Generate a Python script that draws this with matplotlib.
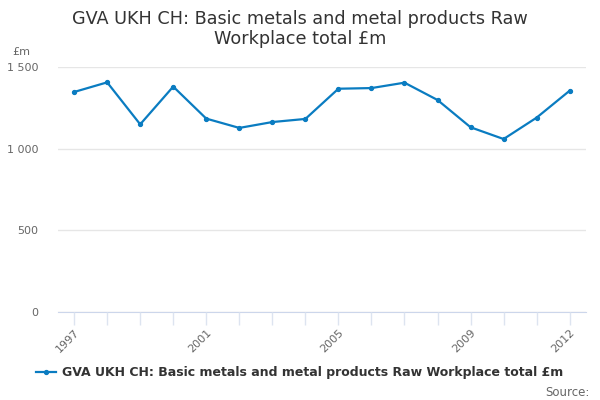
import matplotlib
matplotlib.use("Agg")
import matplotlib.pyplot as plt
from matplotlib.ticker import FuncFormatter

years = list(range(1997, 2013))
values = [1347, 1406, 1149, 1380, 1184, 1127, 1163, 1182, 1367, 1371, 1404, 1298, 1131, 1059, 1190, 1355]
label_years = [1997, 2001, 2005, 2009, 2012]
y_ticks = [0, 500, 1000, 1500]
series_name = "GVA UKH CH: Basic metals and metal products Raw Workplace total £m"
title = "GVA UKH CH: Basic metals and metal products Raw\nWorkplace total £m"

plt.rcParams['font.family'] = ['DejaVu Sans']
fig = plt.figure(figsize=(6, 4), dpi=100)
ax = fig.add_axes([0.096, 0.22, 0.881, 0.6125])

color = "#0a7cc1"
ax.plot(years, values, color=color, lw=1.6, marker="o", ms=2.8, label=series_name)

ax.set_xlim(1996.5, 2012.5)
ax.set_ylim(0, 1500)
ax.set_yticks(y_ticks)
ax.yaxis.set_major_formatter(FuncFormatter(lambda v, p: f"{int(v):,}".replace(",", " ")))
ax.grid(axis="y", color="#e6e6e6", lw=1)
ax.set_axisbelow(True)
for s in ["top", "right", "left"]:
    ax.spines[s].set_visible(False)
ax.spines["bottom"].set_color("#ccd6eb")
ax.spines["bottom"].set_zorder(0.5)

ax.set_xticks(years)
ax.set_xticklabels([str(y) if y in label_years else "" for y in years], rotation=45,
                   ha="right", rotation_mode="anchor", fontsize=8, color="#666666")
ax.tick_params(axis="x", length=9, color="#dde4f0", width=1, pad=2)
ax.tick_params(axis="y", length=0, labelsize=8, labelcolor="#666666", pad=14)

fig.text(0.5, 0.927, title, ha="center", va="center", fontsize=12.7, color="#333333", linespacing=1.1)
fig.text(0.02, 0.87, "£m", fontsize=8, color="#666666", ha="left", va="center")

leg = fig.legend(loc="center", bbox_to_anchor=(0.5, 0.068), frameon=False,
                 prop={"weight": "bold", "size": 9}, handlelength=1.6, handletextpad=0.5)
for t in leg.get_texts():
    t.set_color("#333333")
fig.text(0.983, 0.02, "Source:", fontsize=8.5, color="#666666", ha="right", va="center")

fig.savefig("out.png", dpi=100)
